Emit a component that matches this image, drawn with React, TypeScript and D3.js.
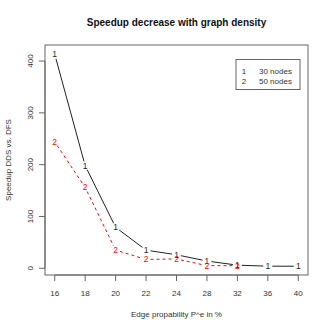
import React from 'react';
import * as d3 from 'd3';

// edge probability (%) categories, plotted at equal spacing
const xLabels = ["16", "18", "20", "22", "24", "28", "32", "36", "40"];
// speedup DDS vs. DFS
const nodes30 = [413, 198, 79, 35, 26, 14, 6, 4, 4];
const nodes50 = [244, 156, 35, 17, 18, 5, 5];
const yTicks = [0, 100, 200, 300, 400];
const legendLabels = ["30 nodes", "50 nodes"];

const W = 332, H = 332;
const margin = { top: 45, right: 24, bottom: 57, left: 45 };
const font = '"Liberation Sans", Arial, Helvetica, sans-serif';
const axisColor = "#666";
const textColor = "#333";

const x = d3.scaleLinear()
    .domain([-0.32, xLabels.length - 1 + 0.32])
    .range([margin.left, W - margin.right]);
const y = d3.scaleLinear()
    .domain([-13, 431])
    .range([H - margin.bottom, margin.top]);

// R type="b": segments between points with a gap around each symbol
const gappedSegments = (vals: number[], gap = 4.5) => {
    const pts = vals.map((v, i) => [x(i), y(v)]);
    const segs: string[] = [];
    for (let i = 0; i < pts.length - 1; i++) {
        const [x0, y0] = pts[i];
        const [x1, y1] = pts[i + 1];
        const len = Math.hypot(x1 - x0, y1 - y0);
        if (len <= gap * 2) continue;
        const ux = (x1 - x0) / len, uy = (y1 - y0) / len;
        segs.push(`M${x0 + ux * gap},${y0 + uy * gap}L${x1 - ux * gap},${y1 - uy * gap}`);
    }
    return segs.join("");
};

const Series = ({ vals, sym, color, dash }: { vals: number[]; sym: string; color: string; dash?: string }) => (
    <g>
        <path d={gappedSegments(vals)} fill="none" stroke={color} strokeWidth={1} strokeDasharray={dash} />
        {vals.map((v, i) => (
            <text key={i} x={x(i)} y={y(v)} dy="0.35em" textAnchor="middle" fontSize={8.5} fill={color}>{sym}</text>
        ))}
    </g>
);

const App = () => {
    const [x0, x1] = x.range();
    const [yb, yt] = y.range();
    return (
        <svg width={W} height={H} style={{ position: 'absolute', left: 0, top: 0, background: '#fff' }} fontFamily={font}>
            <rect width={W} height={H} fill="#fff" />
            <text x={(x0 + x1) / 2} y={26} textAnchor="middle" fontSize={10} fontWeight="bold" fill="#111">
                Speedup decrease with graph density
            </text>

            {/* y axis */}
            <g stroke={axisColor}>
                <line x1={x0} x2={x0} y1={y(0)} y2={y(400)} />
                {yTicks.map(t => <line key={t} x1={x0 - 6} x2={x0} y1={y(t)} y2={y(t)} />)}
            </g>
            {yTicks.map(t => (
                <text key={t} transform={`translate(33,${y(t)}) rotate(-90)`} textAnchor="middle"
                    fontSize={8} fill={textColor}>{t}</text>
            ))}

            {/* x axis */}
            <g stroke={axisColor}>
                <line x1={x(0)} x2={x(xLabels.length - 1)} y1={yb} y2={yb} />
                {xLabels.map((l, i) => <line key={l} x1={x(i)} x2={x(i)} y1={yb} y2={yb + 6} />)}
            </g>
            {xLabels.map((l, i) => (
                <text key={l} x={x(i)} y={296} textAnchor="middle" fontSize={8} fill={textColor}>{l}</text>
            ))}

            <rect x={x0} y={yt} width={x1 - x0} height={yb - yt} fill="none" stroke={axisColor} />

            <text x={(x0 + x1) / 2} y={317} textAnchor="middle" fontSize={8} fill={textColor}>
                Edge propability P^e in %
            </text>
            <text transform={`translate(10.5,${(yb + yt) / 2}) rotate(-90)`} textAnchor="middle" fontSize={8} fill={textColor}>
                Speedup DDS vs. DFS
            </text>

            <Series vals={nodes30} sym="1" color="#222" />
            <Series vals={nodes50} sym="2" color="#f00" dash="3,3" />

            {/* legend */}
            <rect x={236} y={59.5} width={64} height={30} fill="#fff" stroke={axisColor} />
            {legendLabels.map((l, i) => (
                <g key={l} fontSize={8} fill={textColor}>
                    <text x={244} y={74 + i * 10} textAnchor="middle">{i + 1}</text>
                    <text x={259} y={74 + i * 10}>{l}</text>
                </g>
            ))}
        </svg>
    );
};

export default App;
